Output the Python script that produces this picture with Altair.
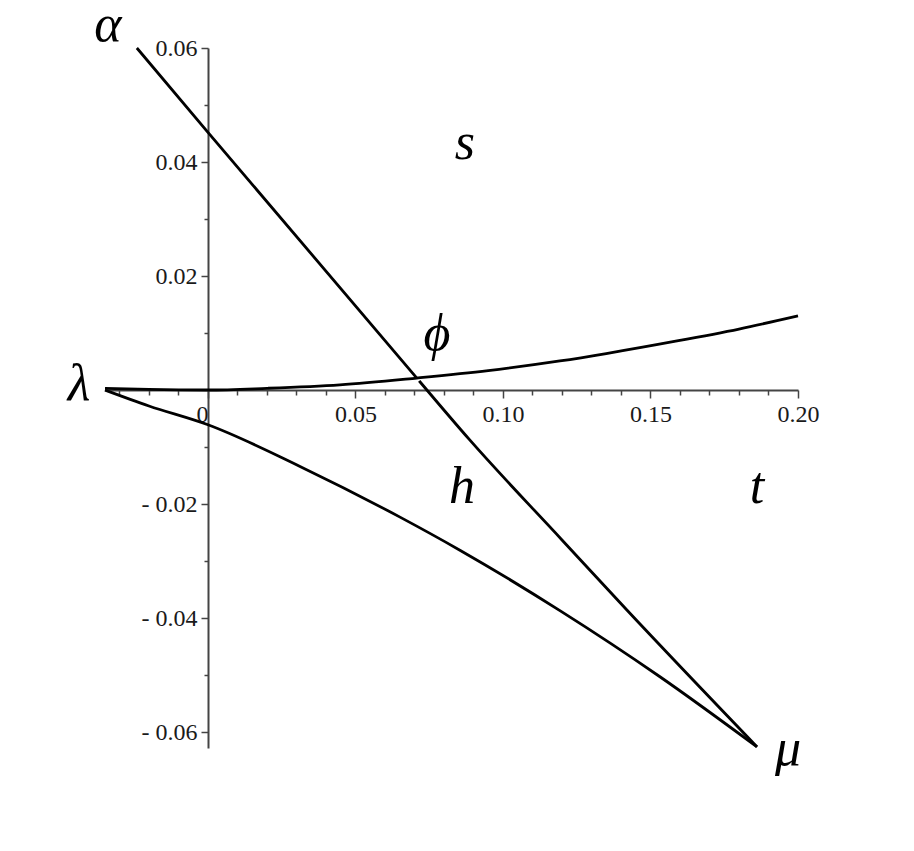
import altair as alt
import pandas as pd

# ---- data ----
upper_x = [-0.0349, -0.02, 0.0, 0.02, 0.0447, 0.0708, 0.095, 0.1193, 0.135, 0.159, 0.18, 0.2]
upper_y = [0.0003, 0.0001, 0.0, 0.0003, 0.0009, 0.0021, 0.0034, 0.0051, 0.0064, 0.0086, 0.0107, 0.013]

line1_x = [-0.0241, 0.0, 0.0708]
line1_y = [0.06, 0.0452, 0.0021]

line2_x = [0.0716, 0.0888, 0.12, 0.142, 0.1861]
line2_y = [0.0016, -0.0088, -0.0263, -0.0386, -0.0626]

lower_x = [-0.0349, -0.02, 0.0, 0.0312, 0.0651, 0.0854, 0.1193, 0.1532, 0.1861]
lower_y = [0.0, -0.0028, -0.0061, -0.0134, -0.0223, -0.0281, -0.0387, -0.0503, -0.0626]

label_text = ["α", "s", "ϕ", "λ", "h", "t", "μ"]
label_x = [-0.0339, 0.0871, 0.0776, -0.0437, 0.0861, 0.1861, 0.1966]
label_y = [0.0612, 0.0405, 0.0070, -0.00175, -0.0198, -0.0198, -0.0658]

x_major = [0.0, 0.05, 0.10, 0.15, 0.20]
x_minor = [-0.03, -0.02, -0.01, 0.01, 0.02, 0.03, 0.04, 0.06, 0.07, 0.08, 0.09,
           0.11, 0.12, 0.13, 0.14, 0.16, 0.17, 0.18, 0.19]
y_major = [-0.06, -0.04, -0.02, 0.02, 0.04, 0.06]
y_minor = [-0.05, -0.03, -0.01, 0.01, 0.03, 0.05]

rows = []
for name, xs, ys in [("upper", upper_x, upper_y), ("line1", line1_x, line1_y),
                     ("line2", line2_x, line2_y), ("lower", lower_x, lower_y)]:
    for i, (a, b) in enumerate(zip(xs, ys)):
        rows.append({"series": name, "x": a, "y": b, "i": i})
df = pd.DataFrame(rows)
lab = pd.DataFrame({"t": label_text, "x": label_x, "y": label_y})

x_scale = alt.Scale(domain=[-0.0349, 0.2], nice=False, zero=False)
y_scale = alt.Scale(domain=[-0.0628, 0.06], nice=False, zero=False)

common = dict(title=None, grid=False, tickColor="#444", tickWidth=1.5,
              domainColor="#444", domainWidth=2)

x_axis = alt.Axis(
    orient="bottom", offset=-358, values=x_major,
    labelExpr="datum.value == 0 ? '0' : format(datum.value, '.2f')",
    labelFont="Liberation Serif", labelFontSize=24, labelColor="#1a1a1a",
    labelOverlap=False, labelFlush=False, labelPadding=4,
    labelAlign={"condition": {"test": "datum.value == 0", "value": "right"}, "value": "center"},
    tickSize=8, **common,
)
y_axis = alt.Axis(
    orient="left", offset=-103, values=y_major,
    labelExpr="datum.value < 0 ? '- ' + format(-datum.value, '.2f') : format(datum.value, '.2f')",
    labelFont="Liberation Serif", labelFontSize=24, labelColor="#1a1a1a",
    labelOverlap=False, labelFlush=False, labelPadding=4,
    tickSize=7, **common,
)
x_axis_minor = alt.Axis(orient="bottom", offset=-358, values=x_minor, labels=False,
                        domain=False, tickSize=5, title=None, grid=False,
                        tickColor="#444", tickWidth=1.5)
y_axis_minor = alt.Axis(orient="left", offset=-103, values=y_minor, labels=False,
                        domain=False, tickSize=4, title=None, grid=False,
                        tickColor="#444", tickWidth=1.5)

lines = alt.Chart(df).mark_line(color="black", strokeWidth=2.8, interpolate="monotone").encode(
    x=alt.X("x:Q", scale=x_scale, axis=x_axis),
    y=alt.Y("y:Q", scale=y_scale, axis=y_axis),
    detail="series:N",
    order="i:Q",
)

minor = alt.Chart(df).mark_point(opacity=0).encode(
    x=alt.X("x:Q", scale=x_scale, axis=x_axis_minor),
    y=alt.Y("y:Q", scale=y_scale, axis=y_axis_minor),
)

labels = alt.Chart(lab).mark_text(
    font="Liberation Serif", fontStyle="italic", fontSize=52, baseline="alphabetic",
    align="center", color="black"
).encode(
    x=alt.X("x:Q", scale=x_scale, axis=None),
    y=alt.Y("y:Q", scale=y_scale, axis=None),
    text="t:N",
)

chart = alt.layer(minor, lines, labels).resolve_axis(
    x="independent", y="independent"
).properties(
    width=693, height=700,
    autosize=alt.AutoSizeParams(type="none"),
    padding={"left": 97, "top": 40, "right": 100, "bottom": 95},
).configure_view(strokeWidth=0)

chart.save("out.html", embed_options={"renderer": "svg", "actions": False})
